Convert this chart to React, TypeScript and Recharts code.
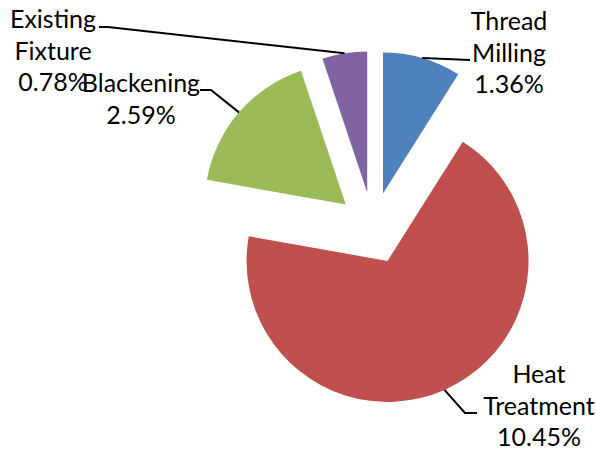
import { Cell, Pie, PieChart, Sector } from "recharts";

const categories = ["Thread Milling", "Heat Treatment", "Blackening", "Existing Fixture"];
const values = [1.36, 10.45, 2.59, 0.78];
const colors = ["#4F81BD", "#C0504D", "#9BBB59", "#8064A2"];

const data = categories.map((name, i) => ({ name, value: values[i] }));

const RAD = Math.PI / 180;
const EXPLODE = 36;
const FONT = "Lato, 'Open Sans', sans-serif";

// text block (center x, first baseline) and leader elbow points for each label
const labelLayout: Record<string, { x: number; y: number; lines: string[]; elbow: number[][] }> = {
  "Thread Milling": { x: 509, y: 30, lines: ["Thread", "Milling"], elbow: [[470, 60]] },
  "Heat Treatment": { x: 539, y: 383, lines: ["Heat", "Treatment"], elbow: [[465, 413], [477, 413]] },
  Blackening: { x: 141, y: 92, lines: ["Blackening"], elbow: [[211, 90], [200, 90]] },
  "Existing Fixture": { x: 53, y: 28, lines: ["Existing", "Fixture"], elbow: [[108, 27], [99, 27]] },
};

const offset = (midAngle: number) => ({
  dx: EXPLODE * Math.cos(-midAngle * RAD),
  dy: EXPLODE * Math.sin(-midAngle * RAD),
});

const ExplodedSector = (props: any) => {
  const { dx, dy } = offset(props.midAngle);
  return <Sector {...props} cx={props.cx + dx} cy={props.cy + dy} stroke="none" />;
};

const renderLabel = (props: any) => {
  const { cx, cy, midAngle, outerRadius, name, value } = props;
  const spot = labelLayout[name];
  if (!spot) return null;
  const { dx, dy } = offset(midAngle);
  const sx = cx + dx + outerRadius * Math.cos(-midAngle * RAD);
  const sy = cy + dy + outerRadius * Math.sin(-midAngle * RAD);
  const pts = [[sx, sy], ...spot.elbow].map((p) => p.join(",")).join(" ");
  const lines = [...spot.lines, `${value.toFixed(2)}%`];
  return (
    <g>
      <polyline points={pts} fill="none" stroke="#000" strokeWidth={2} />
      <text x={spot.x} y={spot.y} textAnchor="middle" fontFamily={FONT} fontSize={25} fill="#000">
        {lines.map((l, i) => (
          <tspan key={i} x={spot.x} dy={i === 0 ? 0 : 31.5}>
            {l}
          </tspan>
        ))}
      </text>
    </g>
  );
};

export default function App() {
  return (
    <div style={{ position: "absolute", left: 0, top: 0, background: "#fff" }}>
      <PieChart width={597} height={452} margin={{ top: 0, right: 0, bottom: 0, left: 0 }}>
        <Pie
          data={data}
          dataKey="value"
          nameKey="name"
          cx={373}
          cy={228}
          outerRadius={141}
          startAngle={90}
          endAngle={-270}
          stroke="none"
          shape={ExplodedSector}
          activeShape={ExplodedSector}
          inactiveShape={ExplodedSector}
          label={renderLabel}
          labelLine={false}
          isAnimationActive={false}
        >
          {data.map((d, i) => (
            <Cell key={d.name} fill={colors[i]} />
          ))}
        </Pie>
      </PieChart>
    </div>
  );
}
